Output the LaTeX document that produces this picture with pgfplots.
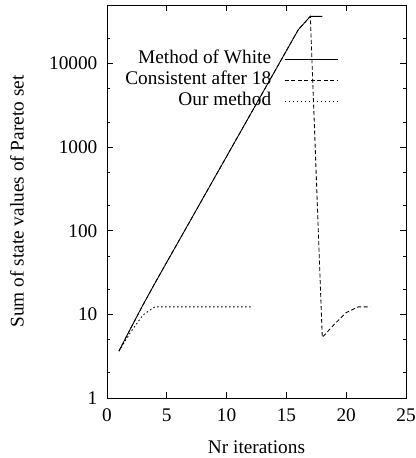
\documentclass[border=0pt]{standalone}
\usepackage{pgfplots}
\pgfplotsset{compat=1.18}
\usepackage{fontspec}
\setmainfont{Liberation Serif}
\newcommand{\fs}{\fontsize{19.3bp}{22bp}\selectfont}
\begin{document}
\fs
\begin{tikzpicture}
\begin{axis}[
  scale only axis, width=299bp, height=393bp,
  xmin=0, xmax=25, ymin=1, ymax=50000, ymode=log,
  xtick={0,5,10,15,20,25},
  ytick={1,10,100,1000,10000},
  yticklabels={1,10,100,1000,10000},
  minor ytick={2,5,20,50,200,500,2000,5000,20000},
  tick align=inside, major tick length=6bp, minor tick length=3bp,
  tick style={black, line width=0.7bp},
  axis line style={black, line width=0.8bp},
  /pgf/number format/assume math mode=true,
  ticklabel style={font=\fs},
  xticklabel style={yshift=-4bp},
  yticklabel style={xshift=-3bp},
  xlabel={Nr iterations},
  ylabel={Sum of state values of Pareto set},
  label style={font=\fs},
  xlabel style={at={([yshift=-49bp]axis description cs:0.5,0)}, anchor=center},
  ylabel style={at={([xshift=-90bp]axis description cs:0,0.5)}, anchor=center},
  legend plot pos=right,
  legend cell align=right,
  legend image code/.code={\draw[#1] (0bp,0bp) -- (53bp,0bp);},
  legend style={draw=none, fill=none, at={(0.7726,0.886)}, anchor=north east,
    font=\fs, row sep=2bp, column sep=13bp,
    nodes={inner sep=0pt, text height=14bp, text depth=5bp},
    inner sep=0pt, outer sep=0pt},
]
\addplot[black, line width=0.85bp] coordinates {(1,3.64)(2,6.9)(3,12.9)(4,23.5)(5,42.1)(6,75.3)(7,134.8)(8,241.3)(9,432)(10,773)(11,1384)(12,2477)(13,4434)(14,7937)(15,14208)(16,25400)(17,36600)(18,36600)};
\addlegendentry{Method of White}
\addplot[black, line width=0.85bp, dash pattern=on 4bp off 2.5bp] coordinates {(1,3.64)(2,6.9)(3,12.9)(4,23.5)(5,42.1)(6,75.3)(7,134.8)(8,241.3)(9,432)(10,773)(11,1384)(12,2477)(13,4434)(14,7937)(15,14208)(16,25400)(17,36600)(18,5.3)(19,7.6)(20,10.5)(21,12.3)(22,12.3)};
\addlegendentry{Consistent after 18}
\addplot[black, line width=0.85bp, dash pattern=on 1.5bp off 2.5bp] coordinates {(1,3.64)(2,6.2)(3,9.8)(4,12.3)(5,12.3)(6,12.3)(7,12.3)(8,12.3)(9,12.3)(10,12.3)(11,12.3)(12,12.3)};
\addlegendentry{Our method}
\end{axis}
\pgfresetboundingbox
\path[use as bounding box] (-107bp,-60bp) rectangle (309bp,398bp);
\end{tikzpicture}
\end{document}
